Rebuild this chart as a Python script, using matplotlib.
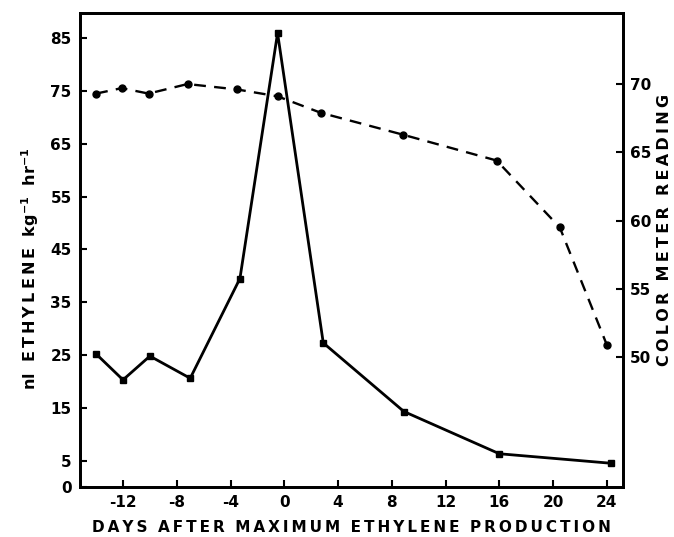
import matplotlib.pyplot as plt

# ethylene production (left axis), squares, solid line
eth_days = [-14, -12, -10, -7, -3.3, -0.5, 2.9, 8.9, 16, 24.3]
eth_vals = [25.2, 20.3, 24.8, 20.6, 39.5, 86, 27.3, 14.3, 6.3, 4.5]

# color meter reading (right axis), circles, dashed line
col_days = [-14, -12.1, -10.1, -7.2, -3.5, -0.5, 2.7, 8.8, 15.8, 20.5, 24]
col_vals = [69.3, 69.7, 69.3, 70.0, 69.6, 69.1, 67.9, 66.3, 64.4, 59.5, 50.9]

x_ticks = [-12, -8, -4, 0, 4, 8, 12, 16, 20, 24]
left_ticks = [0, 5, 15, 25, 35, 45, 55, 65, 75, 85]
right_ticks = [50, 55, 60, 65, 70]

plt.rcParams['font.family'] = 'DejaVu Sans'
plt.rcParams['font.weight'] = 'bold'

TS = '\u2009'  # thin space for letter spacing


def spaced(text):
    return '  '.join(TS.join(w) for w in text.split(' '))


fig = plt.figure(figsize=(6.74, 5.37), dpi=100)
ax = fig.add_axes([0.1187, 0.0931, 0.8056, 0.8827])
ax2 = ax.twinx()

ax.plot(eth_days, eth_vals, color='black', lw=2, marker='s', ms=5)
ax2.plot(col_days, col_vals, color='black', lw=1.7, ls=(0, (5, 3.5)), marker='o', ms=5)

ax.set_xlim(-15.2, 25.2)
ax.set_ylim(0, 89.8)
ax2.set_ylim(40.5, 75.2)

ax.set_xticks(x_ticks)
ax.set_xticklabels([str(t) for t in x_ticks])
ax.set_yticks(left_ticks)
ax2.set_yticks(right_ticks)

ax.tick_params(direction='in', length=5, width=1.5, labelsize=11, pad=6)
ax2.tick_params(direction='in', length=5, width=1.5, labelsize=11, pad=5)
for lab in ax.get_xticklabels() + ax.get_yticklabels() + ax2.get_yticklabels():
    lab.set_fontweight('bold')

for a in (ax, ax2):
    for s in a.spines.values():
        s.set_linewidth(2)

fig.text(0.522, 0.004, spaced('DAYS AFTER MAXIMUM ETHYLENE PRODUCTION'),
         ha='center', va='bottom', fontsize=11, fontweight='bold')
fig.text(0.045, 0.50,
         'nl  ' + spaced('ETHYLENE') + r'  kg$^{\mathbf{-1}}$  hr$^{\mathbf{-1}}$',
         rotation=90, ha='center', va='center', fontsize=11.5, fontweight='bold')
fig.text(0.986, 0.572, spaced('COLOR METER READING'), rotation=90,
         ha='center', va='center', fontsize=11.5, fontweight='bold')

fig.savefig('out.png', dpi=100)
